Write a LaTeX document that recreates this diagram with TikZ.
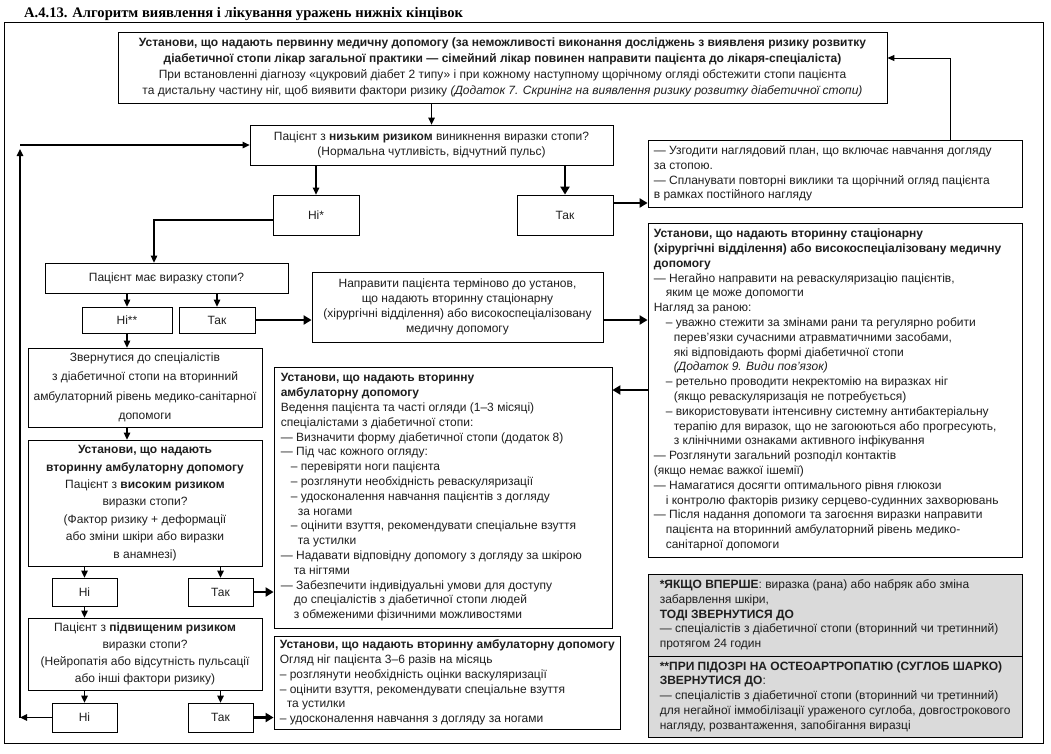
\documentclass[tikz,border=0pt]{standalone}
\usepackage{fontspec}
\setmainfont{Liberation Sans}
\newfontfamily\titlefont{Liberation Serif}
\usetikzlibrary{arrows.meta}
\definecolor{greyfill}{RGB}{218,218,218}
\definecolor{ink}{RGB}{30,30,30}
\newcommand{\bx}[7]{\node[#6, minimum width=#4pt-#2pt, minimum height=#5pt-#3pt] (#1) at ({(#2+#4)/2},{(#3+#5)/2}) {#7};}
\newcommand{\ind}[1]{\hspace*{#1pt}}
\tikzset{
  box/.style={draw, line width=0.8pt, inner sep=0pt, align=center, text=ink, font=\fontsize{12}{14.8}\selectfont},
  tbox/.style={box, font=\fontsize{12}{15.8}\selectfont},
  lbox/.style={box, font=\fontsize{12}{19.5}\selectfont},
  hbox/.style={box, font=\fontsize{12}{17.4}\selectfont},
  pbox/.style={box, font=\fontsize{12}{17}\selectfont},
  gbox/.style={box, fill=greyfill},
  txt/.style={inner sep=0pt, align=left, anchor=west, text=ink, font=\fontsize{12}{14.8}\selectfont},
  arr/.style={line width=1.3pt, -{Triangle[length=7pt,width=6.5pt]}},
  tarr/.style={line width=2.6pt, -{Triangle[length=8pt,width=9pt]}},
  farr/.style={line width=0.9pt, -{Triangle[length=7pt,width=6pt]}}
}
\begin{document}
\begin{tikzpicture}[x=1pt,y=-1pt]
\useasboundingbox (0,0) rectangle (1051,753);
\node[anchor=base west, inner sep=0pt, font=\titlefont\bfseries\fontsize{14.6}{16}\selectfont] (title) at (24,17) {А.4.13. Алгоритм виявлення і лікування уражень нижніх кінцівок};
\node[draw, line width=0.8pt, inner sep=0pt, minimum width=1039pt, minimum height=721pt] (frame) at (523.5,382.5) {};

\bx{top}{118}{32}{887}{103}{tbox}{\textbf{Установи, що надають первинну медичну допомогу (за неможливості виконання досліджень з виявленя ризику розвитку}\\
\textbf{діабетичної стопи лікар загальної практики — сімейний лікар повинен направити пацієнта до лікаря-спеціаліста)}\\
При встановленні діагнозу «цукровий діабет 2 типу» і при кожному наступному щорічному огляді обстежити стопи пацієнта\\
та дистальну частину ніг, щоб виявити фактори ризику \textit{(Додаток 7. Скринінг на виявлення ризику розвитку діабетичної стопи)}}

\bx{low}{250}{125}{613}{165}{box}{Пацієнт з \textbf{низьким ризиком} виникнення виразки стопи?\\(Нормальна чутливість, відчутний пульс)}
\bx{nis}{273}{195}{359}{235}{box}{Ні*}
\bx{tak1}{517}{195}{613}{235}{box}{Так}

\bx{uz}{648}{140}{1022}{207}{box}{}
\node[txt] (uzT) at ([xshift=6pt]uz.west) {— Узгодити наглядовий план, що включає навчання догляду\\
за стопою.\\
— Спланувати повторні виклики та щорічний огляд пацієнта\\
в рамках постійного нагляду};

\bx{vyr}{45}{263}{288}{293}{box}{Пацієнт має виразку стопи?}
\bx{ni2}{82}{307}{172}{333}{box}{Ні**}
\bx{tak2}{179}{307}{255}{333}{box}{Так}
\bx{nap}{312}{272}{603}{342}{box}{Направити пацієнта терміново до установ,\\що надають вторинну стаціонарну\\(хірургічні відділення) або високоспеціалізовану\\медичну допомогу}

\bx{big}{648}{223}{1022}{557}{box}{}
\node[txt] (bigT) at ([xshift=6pt]big.west) {\textbf{Установи, що надають вторинну стаціонарну}\\
\textbf{(хірургічні відділення) або високоспеціалізовану медичну}\\
\textbf{допомогу}\\
— Негайно направити на реваскуляризацію пацієнтів,\\
\ind{12}яким це може допомогти\\
Нагляд за раною:\\
\ind{12}– уважно стежити за змінами рани та регулярно робити\\
\ind{20}перев'язки сучасними атравматичними засобами,\\
\ind{20}які відповідають формі діабетичної стопи\\
\ind{20}\textit{(Додаток 9. Види пов'язок)}\\
\ind{12}– ретельно проводити некректомію на виразках ніг\\
\ind{20}(якщо реваскуляризація не потребується)\\
\ind{12}– використовувати інтенсивну системну антибактеріальну\\
\ind{20}терапію для виразок, що не загоюються або прогресують,\\
\ind{20}з клінічними ознаками активного інфікування\\
— Розглянути загальний розподіл контактів\\
(якщо немає важкої ішемії)\\
— Намагатися досягти оптимального рівня глюкози\\
\ind{12}і контролю факторів ризику серцево-судинних захворювань\\
— Після надання допомоги та загоєння виразки направити\\
\ind{12}пацієнта на вторинний амбулаторний рівень медико-\\
\ind{12}санітарної допомоги};

\bx{zv}{28}{348}{262}{427}{lbox}{Звернутися до спеціалістів\\з діабетичної стопи на вторинний\\амбулаторний рівень медико-санітарної\\допомоги}
\bx{hi}{28}{440}{262}{566}{hbox}{\textbf{Установи, що надають}\\\textbf{вторинну амбулаторну допомогу}\\Пацієнт з \textbf{високим ризиком}\\виразки стопи?\\(Фактор ризику + деформації\\або зміни шкіри або виразки\\в анамнезі)}
\bx{ni3}{52}{578}{117}{606}{box}{Ні}
\bx{tak3}{188}{578}{253}{606}{box}{Так}
\bx{pv}{28}{618}{262}{690}{pbox}{Пацієнт з \textbf{підвищеним ризиком}\\виразки стопи?\\(Нейропатія або відсутність пульсації\\або інші фактори ризику)}
\bx{ni4}{52}{703}{117}{732}{box}{Ні}
\bx{tak4}{188}{703}{253}{732}{box}{Так}

\bx{mid}{274}{367}{612}{628}{box}{}
\node[txt] (midT) at ([xshift=7pt]mid.west) {\textbf{Установи, що надають вторинну}\\
\textbf{амбулаторну допомогу}\\
Ведення пацієнта та часті огляди (1–3 місяці)\\
спеціалістами з діабетичної стопи:\\
— Визначити форму діабетичної стопи (додаток 8)\\
— Під час кожного огляду:\\
\ind{10}– перевіряти ноги пацієнта\\
\ind{10}– розглянути необхідність реваскуляризації\\
\ind{10}– удосконалення навчання пацієнтів з догляду\\
\ind{17}за ногами\\
\ind{10}– оцінити взуття, рекомендувати спеціальне взуття\\
\ind{17}та устилки\\
— Надавати відповідну допомогу з догляду за шкірою\\
\ind{13}та нігтями\\
— Забезпечити індивідуальні умови для доступу\\
\ind{13}до спеціалістів з діабетичної стопи людей\\
\ind{13}з обмеженими фізичними можливостями};

\bx{bot}{274}{636}{620}{729}{box}{}
\node[txt] (botT) at ([xshift=6pt]bot.west) {\textbf{Установи, що надають вторинну амбулаторну допомогу}\\
Огляд ніг пацієнта 3–6 разів на місяць\\
– розглянути необхідність оцінки васкуляризації\\
– оцінити взуття, рекомендувати спеціальне взуття\\
\ind{7}та устилки\\
– удосконалення навчання з догляду за ногами};

\bx{g1}{648}{574}{1022}{656}{gbox}{}
\node[txt] (g1T) at ([xshift=12pt]g1.west) {\textbf{*ЯКЩО ВПЕРШЕ}: виразка (рана) або набряк або зміна\\
забарвлення шкіри,\\
\textbf{ТОДІ ЗВЕРНУТИСЯ ДО}\\
— спеціалістів з діабетичної стопи (вторинний чи третинний)\\
протягом 24 годин};
\bx{g2}{648}{656}{1022}{737}{gbox}{}
\node[txt] (g2T) at ([xshift=12pt]g2.west) {\textbf{**ПРИ ПІДОЗРІ НА ОСТЕОАРТРОПАТІЮ (СУГЛОБ ШАРКО)}\\
\textbf{ЗВЕРНУТИСЯ ДО}:\\
— спеціалістів з діабетичної стопи (вторинний чи третинний)\\
для негайної іммобілізації ураженого суглоба, довгострокового\\
нагляду, розвантаження, запобігання виразці};

% connectors
\draw[arr] (top.south -| low.north) -- (low.north);
\draw[arr] (low.south -| nis.north) -- (nis.north);
\draw[tarr] (low.south -| tak1.north) -- (tak1.north);
\coordinate (tkR) at ([yshift=12pt]tak1.east);
\draw[tarr] (tkR) -- (tkR -| uz.west);
\coordinate (fr) at (950,58);
\draw[farr] (uz.north -| fr) |- (top.east |- fr);
\draw[arr] ([yshift=-5pt]nis.west) -| ([xshift=-12.5pt]vyr.north);
\draw[arr] (vyr.south -| ni2.north) -- (ni2.north);
\draw[arr] (vyr.south -| tak2.north) -- (tak2.north);
\draw[tarr] (tak2.east) -- (tak2.east -| nap.west);
\draw[tarr] (tak2.east -| nap.east) -- (tak2.east -| big.west);
\draw[tarr] (big.west) -- (big.west -| mid.east);
\draw[arr] (ni2.south) -- (ni2.south |- zv.north);
\draw[arr] (ni2.south |- zv.south) -- (ni2.south |- hi.north);
\draw[arr] (hi.south -| ni3.north) -- (ni3.north);
\draw[arr] (hi.south -| tak3.north) -- (tak3.north);
\draw[tarr] (tak3.east) -- (tak3.east -| mid.west);
\draw[arr] (ni3.south) -- (ni3.south |- pv.north);
\draw[arr] (pv.south -| ni4.north) -- (ni4.north);
\draw[arr] (pv.south -| tak4.north) -- (tak4.north);
\draw[tarr] (tak4.east) -- (tak4.east -| bot.west);
\coordinate (fb) at (20,0);
\draw[arr] (ni4.west) -- (ni4.west -| fb);
\draw[arr] (ni4.west -| fb) -- ([yshift=-4pt]fb |- low.west);
\draw[arr] (fb |- low.west) -- (low.west);
\end{tikzpicture}
\end{document}
